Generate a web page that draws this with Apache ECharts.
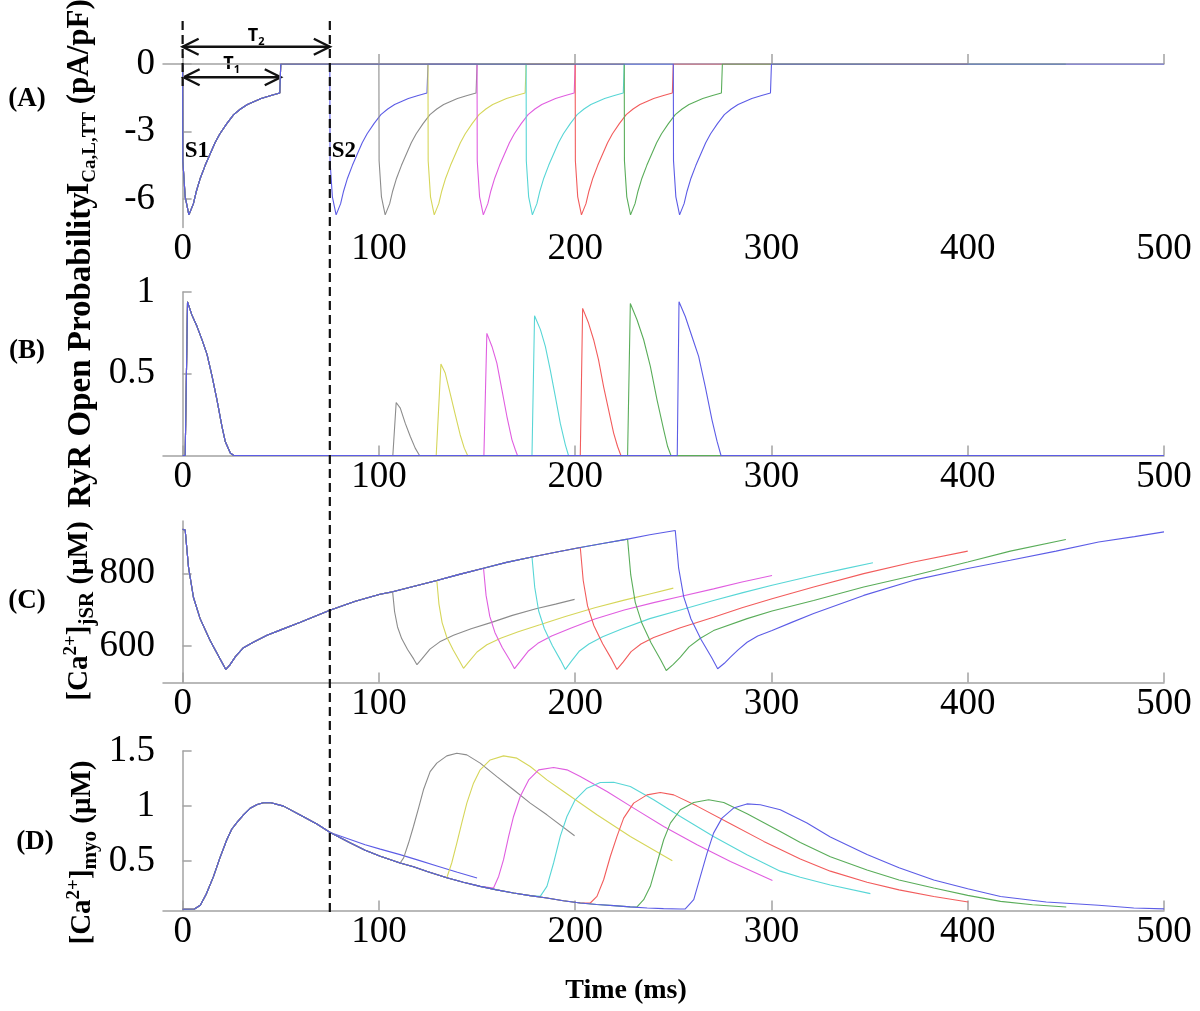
<!DOCTYPE html>
<html><head><meta charset="utf-8">
<script src="https://cdn.jsdelivr.net/npm/echarts@6/dist/echarts.min.js"></script>
<style>html,body{margin:0;padding:0;background:#fff}#c{width:1200px;height:1011px}</style>
</head><body><div id="c"></div>
<script>
// ---------- data (time in ms) ----------
const timeTicks = [0, 100, 200, 300, 400, 500];
const s2Times = [75, 100, 125, 150, 175, 200, 225, 250];
const traceColors = ['#5c5ce6', '#8c8c8c', '#d6d65a', '#e05ee0', '#58d6d6', '#f25c5c', '#5aad5a', '#5c5ce6'];

// (A) I_Ca,L,TT  — one pulse response (relative time), same for S1 and every S2
const icalPulse = [[0,0],[0.1,-4.3],[1.3,-5.9],[3.2,-6.7],[4,-6.65],[5.5,-6.2],[7,-5.65],[9,-5.07],[11.5,-4.5],[14,-4.0],[16.5,-3.5],[19,-3.1],[22.5,-2.65],[26,-2.25],[29.5,-2.0],[33,-1.8],[36.5,-1.66],[40,-1.53],[45,-1.4],[49.5,-1.29],[50,0]];
const icalTicks = [-6, -3, 0];

// (B) RyR open probability
const ryrS1 = [[0,0],[1.3,0],[2.5,0.94],[4.7,0.86],[7.3,0.79],[9.8,0.71],[12.4,0.62],[14.9,0.49],[17.5,0.34],[20,0.18],[21.7,0.086],[24.3,0.015],[26,0]];
const ryrS2_75 = [];
const ryrS2_100 = [[107.1,0],[108.8,0.324],[110.9,0.29],[113.4,0.198],[116,0.116],[118.5,0.045],[120.7,0]];
const ryrS2_125 = [[129.2,0],[131.6,0.559],[133.8,0.504],[136.3,0.38],[138.9,0.25],[141.4,0.127],[143.5,0.045],[145.2,0]];
const ryrS2_150 = [[153.5,0],[155,0.747],[157.6,0.667],[160.1,0.565],[162.7,0.40],[165.2,0.24],[167.8,0.096],[169.5,0.035],[170.6,0]];
const ryrS2_175 = [[178,0],[179.3,0.855],[182.3,0.77],[184.8,0.667],[187.3,0.524],[189.9,0.36],[192.4,0.198],[195,0.065],[196.6,0]];
const ryrS2_200 = [[202.6,0],[203.8,0.90],[206.8,0.81],[209.4,0.708],[211.9,0.585],[214.5,0.42],[217,0.28],[219.6,0.137],[221.6,0.055],[223.3,0]];
const ryrS2_225 = [[226.7,0],[228.1,0.93],[231.5,0.83],[234.9,0.708],[238.3,0.545],[241.7,0.34],[245.1,0.157],[247.1,0.055],[248.8,0]];
const ryrS2_250 = [[252,0],[252.9,0.94],[256.1,0.85],[259.5,0.728],[262.9,0.606],[266.3,0.42],[269.7,0.218],[272.3,0.086],[274.3,0]];
const ryrTicks = [0.5, 1];

// (C) [Ca2+]jSR
const jsrS1 = [[0,922],[1.3,920],[3,818],[5.5,735],[8.9,676],[14,616],[19.1,565],[22,536],[24,548],[27,572],[31,596],[36,611],[43,630],[50,645],[60,666],[75,699],[88,724],[100.6,743],[107,750],[118,765],[129.5,781],[141,798],[153.3,815],[165,831],[178,846],[190,859],[202.6,872],[214,883],[226.7,895],[238,907],[251,919]];
const jsrS2_75 = [[150,810]];
const jsrS2_100 = [[107,749],[108,695],[109.5,653],[111.6,621],[114.6,591],[117.7,565],[119.4,549],[122,566],[126,592],[131,612],[138,630],[147,648],[157,665],[168,685],[180,703],[190,716],[199.7,729]];
const jsrS2_125 = [[129.5,781],[130.6,716],[132.2,665],[134.5,626],[137.8,590],[141.2,558],[143.1,539],[146,558],[150,584],[155,604],[162,622],[171,640],[182,659],[195,682],[210,706],[225,727],[238,744],[250,760]];
const jsrS2_150 = [[153.3,815],[154.6,740],[156.5,682],[159.1,638],[162.9,596],[166.9,560],[169.1,538],[172,558],[176,586],[181,608],[188,628],[198,650],[210,675],[225,700],[240,720],[253.6,737],[270.5,758],[285,777],[300.3,795]];
const jsrS2_175 = [[178,846],[179.4,762],[181.4,697],[184.3,648],[188.4,601],[192.6,561],[195,536],[198,558],[202,586],[207,606],[214,626],[224,648],[238,676],[253.6,700],[270.5,726],[285,747],[300.3,768],[321.5,795],[337,813],[351.7,830]];
const jsrS2_200 = [[202.6,872],[204.1,781],[206.3,711],[209.5,657],[214,607],[218.7,563],[221.3,536],[224.5,557],[228.5,585],[233.5,606],[240,624],[253.6,651],[270.5,680],[285,706],[300.3,731],[321.5,763],[347,800],[372.5,832],[400,862]];
const jsrS2_225 = [[226.7,895],[228.3,797],[230.6,721],[234,663],[238.7,609],[243.6,562],[246.4,533],[250,550],[253.6,570],[258,598],[263.8,622],[270.5,643],[287.6,676],[300.3,697],[321.5,726],[347,763],[372.5,795],[400,832],[421.7,862],[450,894]];
const jsrS2_250 = [[251,919],[252.7,816],[255.3,736],[259,675],[264.2,618],[269.6,568],[272.6,538],[276,553],[279.1,570],[283,590],[287.6,611],[293,628],[300.3,643],[310,665],[321.5,690],[347,740],[372.5,782],[400,814],[421.7,837],[445,862],[466.7,887],[485,902],[500,915]];
const jsrTicks = [600, 800];

// (D) [Ca2+]myo
const myoS1 = [[0,0.065],[6,0.067],[9,0.1],[12,0.2],[15.7,0.36],[19,0.53],[22.5,0.695],[25,0.79],[27.6,0.85],[31,0.92],[34.4,0.98],[38,1.015],[41.2,1.03],[45,1.03],[51.4,1.0],[59.9,0.92],[68.4,0.837],[75.2,0.76],[85,0.67],[93,0.6],[100.7,0.545],[110.8,0.484],[117.6,0.45],[125,0.405],[134.6,0.35],[143,0.31],[151.6,0.272],[160,0.24],[168.6,0.212],[177,0.188],[185.6,0.167],[194,0.142],[202.6,0.121],[211,0.108],[219.6,0.097],[228,0.086],[236.7,0.076],[245,0.07],[253.6,0.067],[256.1,0.066]];
const myoS2_75 = [[75.2,0.76],[85,0.70],[93,0.65],[100.7,0.61],[110.8,0.56],[120,0.51],[130,0.455],[140,0.40],[150,0.348]];
const myoS2_100 = [[110.9,0.484],[112.6,0.53],[115.1,0.665],[117.6,0.815],[120.2,0.982],[122.7,1.148],[126.1,1.313],[129.5,1.39],[134.6,1.456],[139.7,1.48],[144.8,1.465],[151.6,1.39],[160.1,1.268],[168.6,1.148],[177.1,1.027],[185.6,0.921],[199.7,0.731]];
const myoS2_125 = [[134.6,0.35],[135.4,0.393],[137.1,0.484],[139.7,0.665],[142.2,0.846],[144.8,1.027],[148.2,1.208],[151.6,1.329],[156.7,1.419],[163.5,1.456],[170.3,1.435],[177.1,1.359],[185.6,1.238],[194.1,1.132],[211.1,0.921],[228.1,0.725],[249.5,0.505]];
const myoS2_150 = [[158.4,0.257],[161,0.362],[163.5,0.514],[166.1,0.725],[168.6,0.906],[172,1.087],[176.3,1.238],[181.4,1.329],[189,1.35],[195.8,1.329],[202.6,1.268],[216.2,1.132],[229.8,0.982],[245.1,0.815],[262.1,0.65],[279.1,0.498],[300.5,0.326]];
const myoS2_175 = [[182.2,0.181],[185.6,0.272],[189,0.484],[192.4,0.725],[195.8,0.906],[200,1.057],[206,1.163],[212.8,1.214],[219.6,1.217],[228.1,1.178],[240,1.057],[253.6,0.906],[270.5,0.725],[287.5,0.559],[304.5,0.41],[314.7,0.355],[330,0.285],[350.4,0.206]];
const myoS2_200 = [[207.7,0.121],[211.1,0.181],[214.5,0.332],[217.9,0.543],[221.3,0.725],[224.7,0.891],[229.8,1.027],[236.6,1.102],[243.4,1.123],[250.2,1.102],[262.1,1.0],[279.1,0.84],[296.1,0.68],[314.7,0.52],[330,0.41],[348.7,0.31],[365,0.24],[382.7,0.18],[400.2,0.13]];
const myoS2_225 = [[231.5,0.085],[234.9,0.151],[238.3,0.272],[241.7,0.484],[245.1,0.695],[248.5,0.846],[253.6,0.967],[260.4,1.033],[268,1.057],[275.7,1.033],[287.6,0.93],[304.5,0.77],[314.7,0.67],[330,0.54],[348.7,0.42],[365,0.33],[382.7,0.257],[400,0.19],[416.7,0.136],[433,0.105],[450.2,0.085]];
const myoS2_250 = [[256.1,0.067],[260.4,0.151],[263.8,0.362],[267.2,0.574],[270.5,0.755],[274.8,0.891],[280.7,0.982],[287.5,1.02],[294.3,1.012],[304.5,0.967],[318.1,0.846],[330,0.72],[348.7,0.56],[365,0.44],[382.7,0.33],[400,0.25],[416.7,0.18],[440,0.13],[466.7,0.1],[484.6,0.076],[500,0.068]];
const myoTicks = [0.5, 1, 1.5];

// ---------- build traces ----------
const ryrS2 = [ryrS2_75, ryrS2_100, ryrS2_125, ryrS2_150, ryrS2_175, ryrS2_200, ryrS2_225, ryrS2_250];
const jsrS2 = [jsrS2_75, jsrS2_100, jsrS2_125, jsrS2_150, jsrS2_175, jsrS2_200, jsrS2_225, jsrS2_250];
const myoS2 = [myoS2_75, myoS2_100, myoS2_125, myoS2_150, myoS2_175, myoS2_200, myoS2_225, myoS2_250];

function icalTrace(s2) {
  return icalPulse.concat([[s2, 0]], icalPulse.map(p => [p[0] + s2, p[1]]), [[2 * s2, 0]]);
}
function ryrTrace(k) {
  return ryrS1.concat(ryrS2[k], [[2 * s2Times[k], 0]]);
}
function branchTrace(env, part) {
  const t0 = part[0][0];
  return env.filter(p => p[0] < t0).concat(part);
}

const series = [];
function addLine(idx, data, color) {
  series.push({type: 'line', xAxisIndex: idx, yAxisIndex: idx, data: data, showSymbol: false,
    symbol: 'none', silent: true, animation: false,
    lineStyle: {color: color, width: 1.1}});
}
s2Times.forEach((s2, k) => {
  addLine(0, icalTrace(s2), traceColors[k]);
  addLine(1, ryrTrace(k), traceColors[k]);
  addLine(2, branchTrace(jsrS1, jsrS2[k]), traceColors[k]);
  addLine(3, branchTrace(myoS1, myoS2[k]), traceColors[k]);
});

// ---------- layout ----------
const grids = [
  {left: 163, top: 64, width: 1001, height: 163.5},
  {left: 163, top: 292, width: 1001, height: 163.5},
  {left: 163, top: 521, width: 1001, height: 161.5},
  {left: 163, top: 751, width: 1001, height: 159.5}
];
const yRanges = [[-7.26, 0], [0, 1], [500, 945], [0.053, 1.5]];
const yTicks = [icalTicks, ryrTicks, jsrTicks, myoTicks];
const AX = '#a3a3a3';
const SERIF = '"Liberation Serif", "Times New Roman", serif';

const xAxes = grids.map((g, i) => ({
  type: 'value', gridIndex: i, min: -10, max: 500,
  axisLine: {show: true, lineStyle: {color: AX, width: 1.5}},
  axisTick: {show: true, inside: true, length: 10, customValues: timeTicks, lineStyle: {color: AX, width: 1.5}},
  axisLabel: {customValues: timeTicks, color: '#000', fontFamily: SERIF, fontSize: 37, margin: 3},
  splitLine: {show: false}
}));
const yAxes = grids.map((g, i) => ({
  type: 'value', gridIndex: i, min: yRanges[i][0], max: yRanges[i][1],
  axisLine: {show: true, lineStyle: {color: AX, width: 1.5}},
  axisTick: {show: true, inside: true, length: 9, customValues: yTicks[i], lineStyle: {color: AX, width: 1.5}},
  axisLabel: {customValues: yTicks[i], color: '#000', fontFamily: SERIF, fontSize: 37, margin: 8},
  splitLine: {show: false}
}));

const chart = echarts.init(document.getElementById('c'), null, {renderer: 'canvas'});
chart.setOption({
  animation: false,
  backgroundColor: '#fff',
  grid: grids,
  xAxis: xAxes,
  yAxis: yAxes,
  series: series
});

// ---------- annotations ----------
const px = t => chart.convertToPixel({xAxisIndex: 0}, t);
const x0 = px(0), x50 = px(50), x75 = px(75);
const BLK = '#111';
function arrow(xa, xb, y) {
  return [
    {type: 'line', shape: {x1: xa, y1: y, x2: xb, y2: y}, style: {stroke: BLK, lineWidth: 2.4}},
    {type: 'polyline', shape: {points: [[xa + 16, y - 8], [xa, y], [xa + 16, y + 8]]}, style: {stroke: BLK, lineWidth: 2.4, fill: null}},
    {type: 'polyline', shape: {points: [[xb - 16, y - 8], [xb, y], [xb - 16, y + 8]]}, style: {stroke: BLK, lineWidth: 2.4, fill: null}}
  ];
}
function rotTitle(x, y, text, mainSize, subSize) {
  return {type: 'text', x: x, y: y, rotation: Math.PI / 2, style: {
    text: text, align: 'center', verticalAlign: 'middle',
    rich: {
      m: {fontFamily: SERIF, fontWeight: 'bold', fontSize: mainSize, lineHeight: mainSize + 8, fill: '#000'},
      s: {fontFamily: SERIF, fontWeight: 'bold', fontSize: subSize, lineHeight: subSize, verticalAlign: 'bottom', fill: '#000'},
      u: {fontFamily: SERIF, fontWeight: 'bold', fontSize: subSize - 2, lineHeight: subSize - 2, verticalAlign: 'top', fill: '#000'}
    }
  }};
}
function plain(x, y, text, size, align) {
  return {type: 'text', x: x, y: y, style: {text: text, fontFamily: SERIF, fontWeight: 'bold', fontSize: size,
    fill: '#000', align: align || 'center', verticalAlign: 'middle'}};
}
function tLabel(x, y, sub) {
  return {type: 'text', x: x, y: y, style: {
    text: '{m|T}{s|' + sub + '}', align: 'center', verticalAlign: 'middle',
    rich: {
      m: {fontFamily: '"Open Sans", "Liberation Sans", sans-serif', fontWeight: 'bold', fontSize: 18, lineHeight: 22, fill: '#000'},
      s: {fontFamily: '"Open Sans", "Liberation Sans", sans-serif', fontWeight: 'bold', fontSize: 11, lineHeight: 11, verticalAlign: 'bottom', fill: '#000'}
    }
  }};
}

const graphics = [
  {type: 'line', shape: {x1: x75, y1: 21, x2: x75, y2: 913}, style: {stroke: BLK, lineWidth: 2.2, lineDash: [9, 5]}, z: 100},
  {type: 'line', shape: {x1: x0, y1: 21, x2: x0, y2: 86}, style: {stroke: BLK, lineWidth: 2.2, lineDash: [9, 5]}, z: 100},
  ...arrow(x0, x75, 46.7),
  ...arrow(x0 + 1, x50, 77.3),
  tLabel((x0 + x75) / 2, 36, '2'),
  tLabel((x0 + x50) / 2, 64, '1'),
  plain(x0 + 2, 151, 'S1', 23, 'left'),
  plain(x75 + 2, 151, 'S2', 23, 'left'),
  plain(27, 99, '(A)', 27),
  plain(27, 351, '(B)', 27),
  plain(27, 601, '(C)', 27),
  plain(35, 842, '(D)', 27),
  rotTitle(80, 97, '{m|I}{s|Ca,L,TT}{m| (pA/pF)}', 31, 19),
  rotTitle(81, 350, '{m|RyR Open Probability}', 33, 23),
  rotTitle(80, 611, '{m|[Ca}{u|2+}{m|]}{s|jSR}{m| (μM)}', 29, 21),
  rotTitle(83, 852.5, '{m|[Ca}{u|2+}{m|]}{s|myo}{m| (μM)}', 29, 21),
  plain(626, 991, 'Time (ms)', 28)
];
chart.setOption({graphic: graphics});
</script></body></html>
